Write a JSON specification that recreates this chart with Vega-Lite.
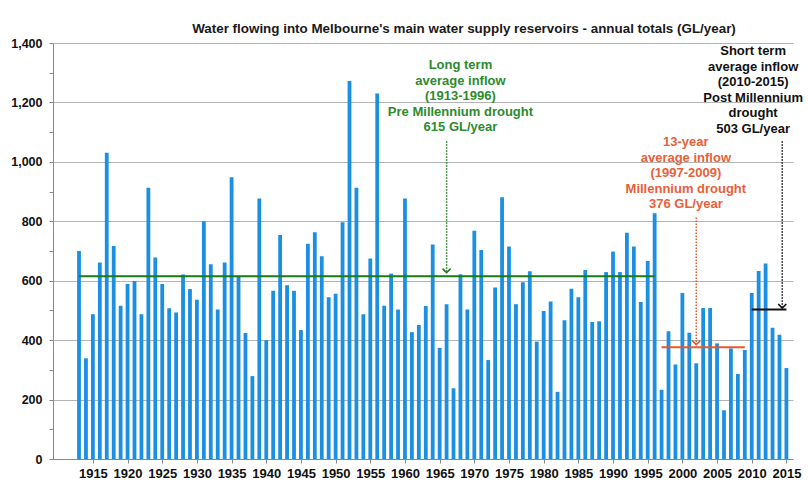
{
  "$schema": "https://vega.github.io/schema/vega-lite/v6.json",
  "width": 740,
  "height": 416,
  "autosize": {"type": "none"},
  "padding": {"left": 53, "top": 43, "right": 15, "bottom": 27},
  "background": "white",
  "config": {"view": {"stroke": null}, "font": "Liberation Sans"},
  "title": {
    "text": "Water flowing into Melbourne's main water supply reservoirs - annual totals (GL/year)",
    "font": "Liberation Sans", "fontSize": 13.4, "fontWeight": "bold", "color": "#1a1a1a",
    "anchor": "middle", "dx": 41, "offset": 2
  },
  "datasets": {
    "inflow": [
      {"year": 1913, "gl": 700}, {"year": 1914, "gl": 339}, {"year": 1915, "gl": 487}, {"year": 1916, "gl": 661},
      {"year": 1917, "gl": 1031}, {"year": 1918, "gl": 717}, {"year": 1919, "gl": 516}, {"year": 1920, "gl": 589},
      {"year": 1921, "gl": 599}, {"year": 1922, "gl": 487}, {"year": 1923, "gl": 913}, {"year": 1924, "gl": 678},
      {"year": 1925, "gl": 589}, {"year": 1926, "gl": 507}, {"year": 1927, "gl": 493}, {"year": 1928, "gl": 621},
      {"year": 1929, "gl": 572}, {"year": 1930, "gl": 536}, {"year": 1931, "gl": 800}, {"year": 1932, "gl": 655},
      {"year": 1933, "gl": 503}, {"year": 1934, "gl": 661}, {"year": 1935, "gl": 948}, {"year": 1936, "gl": 613},
      {"year": 1937, "gl": 424}, {"year": 1938, "gl": 279}, {"year": 1939, "gl": 877}, {"year": 1940, "gl": 400},
      {"year": 1941, "gl": 566}, {"year": 1942, "gl": 754}, {"year": 1943, "gl": 585}, {"year": 1944, "gl": 566},
      {"year": 1945, "gl": 434}, {"year": 1946, "gl": 724}, {"year": 1947, "gl": 763}, {"year": 1948, "gl": 682},
      {"year": 1949, "gl": 544}, {"year": 1950, "gl": 556}, {"year": 1951, "gl": 797}, {"year": 1952, "gl": 1272},
      {"year": 1953, "gl": 913}, {"year": 1954, "gl": 487}, {"year": 1955, "gl": 675}, {"year": 1956, "gl": 1230},
      {"year": 1957, "gl": 516}, {"year": 1958, "gl": 624}, {"year": 1959, "gl": 503}, {"year": 1960, "gl": 877},
      {"year": 1961, "gl": 427}, {"year": 1962, "gl": 451}, {"year": 1963, "gl": 515}, {"year": 1964, "gl": 722},
      {"year": 1965, "gl": 374}, {"year": 1966, "gl": 521}, {"year": 1967, "gl": 238}, {"year": 1968, "gl": 622},
      {"year": 1969, "gl": 503}, {"year": 1970, "gl": 768}, {"year": 1971, "gl": 703}, {"year": 1972, "gl": 333},
      {"year": 1973, "gl": 577}, {"year": 1974, "gl": 881}, {"year": 1975, "gl": 715}, {"year": 1976, "gl": 521},
      {"year": 1977, "gl": 595}, {"year": 1978, "gl": 632}, {"year": 1979, "gl": 395}, {"year": 1980, "gl": 498},
      {"year": 1981, "gl": 530}, {"year": 1982, "gl": 226}, {"year": 1983, "gl": 467}, {"year": 1984, "gl": 573},
      {"year": 1985, "gl": 544}, {"year": 1986, "gl": 636}, {"year": 1987, "gl": 461}, {"year": 1988, "gl": 464},
      {"year": 1989, "gl": 629}, {"year": 1990, "gl": 698}, {"year": 1991, "gl": 629}, {"year": 1992, "gl": 761},
      {"year": 1993, "gl": 715}, {"year": 1994, "gl": 528}, {"year": 1995, "gl": 666}, {"year": 1996, "gl": 827},
      {"year": 1997, "gl": 233}, {"year": 1998, "gl": 430}, {"year": 1999, "gl": 318}, {"year": 2000, "gl": 559},
      {"year": 2001, "gl": 425}, {"year": 2002, "gl": 322}, {"year": 2003, "gl": 508}, {"year": 2004, "gl": 508},
      {"year": 2005, "gl": 389}, {"year": 2006, "gl": 164}, {"year": 2007, "gl": 372}, {"year": 2008, "gl": 286},
      {"year": 2009, "gl": 367}, {"year": 2010, "gl": 559}, {"year": 2011, "gl": 633}, {"year": 2012, "gl": 658},
      {"year": 2013, "gl": 442}, {"year": 2014, "gl": 418}, {"year": 2015, "gl": 306}
    ],
    "averages": [
      {"period": "long", "start": 1913, "end": 1996, "avg": 615},
      {"period": "drought", "start": 1997, "end": 2009, "avg": 376},
      {"period": "post", "start": 2010, "end": 2015, "avg": 503}
    ],
    "arrows": [
      {"period": "long", "x": 1966, "top": 1069, "tip": 627},
      {"period": "drought", "x": 2002, "top": 813, "tip": 385},
      {"period": "post", "x": 2014.4, "top": 1069, "tip": 508}
    ],
    "notes": [
      {"period": "long", "x": 1968, "y": 1325, "label": ["Long term", "average inflow", "(1913-1996)", "Pre Millennium drought", "615 GL/year"]},
      {"period": "drought", "x": 2000.5, "y": 1066, "label": ["13-year", "average inflow", "(1997-2009)", "Millennium drought", "376 GL/year"]},
      {"period": "post", "x": 2010.2, "y": 1372, "label": ["Short term", "average inflow", "(2010-2015)", "Post Millennium", "drought", "503 GL/year"]}
    ]
  },
  "layer": [
    {
      "data": {"name": "inflow"},
      "mark": {"type": "bar", "size": 3.8, "color": "#1b8fe2"},
      "encoding": {
        "x": {
          "field": "year", "type": "quantitative",
          "scale": {"domain": [1909.97, 2015.23], "nice": false, "zero": false},
          "axis": {
            "title": null, "values": [1915, 1920, 1925, 1930, 1935, 1940, 1945, 1950, 1955, 1960, 1965, 1970, 1975, 1980, 1985, 1990, 1995, 2000, 2005, 2010, 2015],
            "tickCount": 200, "format": "d", "grid": false, "labelFont": "Liberation Sans", "labelFontSize": 13, "labelFontWeight": "bold",
            "labelColor": "#111", "labelPadding": 4, "tickSize": 4, "tickColor": "#888", "domainColor": "#888",
            "labelFlush": false, "labelOverlap": false
          }
        },
        "y": {
          "field": "gl", "type": "quantitative",
          "scale": {"domain": [0, 1400], "nice": false},
          "axis": {
            "title": null, "values": [0, 100, 200, 300, 400, 500, 600, 700, 800, 900, 1000, 1100, 1200, 1300, 1400],
            "tickCount": 200,
            "labelExpr": "datum.value % 200 == 0 ? format(datum.value, ',') : ''",
            "grid": true, "gridColor": "#b4b4b4",
            "gridOpacity": {"condition": {"test": "datum.value % 200 != 0", "value": 0}, "value": 1},
            "labelFont": "Liberation Sans", "labelFontSize": 12.5, "labelFontWeight": "bold", "labelColor": "#111",
            "labelPadding": 7, "tickSize": 4, "tickColor": "#888", "domainColor": "#888", "labelOverlap": false
          }
        }
      }
    },
    {
      "data": {"name": "averages"},
      "mark": {"type": "rule", "strokeWidth": 2},
      "encoding": {
        "x": {"field": "start", "type": "quantitative"},
        "x2": {"field": "end"},
        "y": {"field": "avg", "type": "quantitative"},
        "color": {"field": "period", "type": "nominal", "legend": null,
          "scale": {"domain": ["long", "drought", "post"], "range": ["#1a7a1a", "#e8582f", "#111111"]}}
      }
    },
    {
      "data": {"name": "arrows"},
      "mark": {"type": "rule", "strokeWidth": 1.5, "strokeDash": [1.5, 1.5]},
      "encoding": {
        "x": {"field": "x", "type": "quantitative"},
        "y": {"field": "top", "type": "quantitative"},
        "y2": {"field": "tip"},
        "color": {"field": "period", "type": "nominal", "legend": null,
          "scale": {"domain": ["long", "drought", "post"], "range": ["#1a7a1a", "#e8582f", "#111111"]}}
      }
    },
    {
      "data": {"name": "arrows"},
      "mark": {"type": "point", "shape": "M-1,-1L0,0L1,-1", "filled": false, "size": 65, "strokeWidth": 1.6, "opacity": 1},
      "encoding": {
        "x": {"field": "x", "type": "quantitative"},
        "y": {"field": "tip", "type": "quantitative"},
        "color": {"field": "period", "type": "nominal", "legend": null,
          "scale": {"domain": ["long", "drought", "post"], "range": ["#1a7a1a", "#e8582f", "#111111"]}}
      }
    },
    {
      "data": {"name": "notes"},
      "mark": {"type": "text", "font": "Liberation Sans", "fontSize": 13, "fontWeight": "bold", "lineHeight": 15.5, "align": "center", "baseline": "middle"},
      "encoding": {
        "x": {"field": "x", "type": "quantitative"},
        "y": {"field": "y", "type": "quantitative"},
        "text": {"field": "label"},
        "color": {"field": "period", "type": "nominal", "legend": null,
          "scale": {"domain": ["long", "drought", "post"], "range": ["#2e8b2e", "#e8603a", "#111111"]}}
      }
    }
  ],
  "resolve": {"scale": {"color": "independent"}}
}
